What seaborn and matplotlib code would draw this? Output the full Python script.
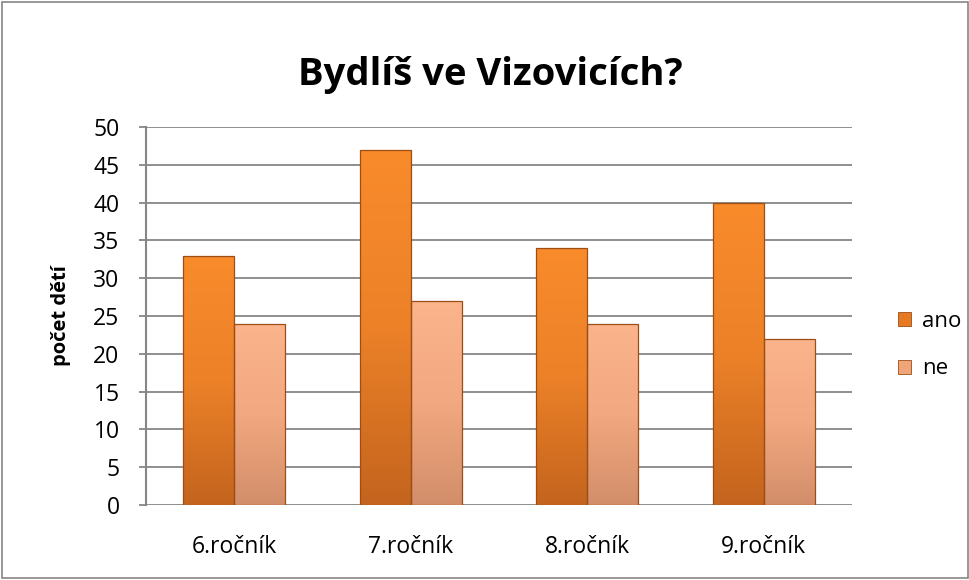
import matplotlib
matplotlib.use("Agg")
import matplotlib.pyplot as plt
import numpy as np
import pandas as pd
import seaborn as sns
from matplotlib.colors import LinearSegmentedColormap
from matplotlib.patches import Rectangle

# data
categories = ["6.ročník", "7.ročník", "8.ročník", "9.ročník"]
ano = [33, 47, 34, 40]
ne = [24, 27, 24, 22]
series = ["ano", "ne"]

df = pd.DataFrame({
    "rocnik": categories * 2,
    "odpoved": ["ano"] * 4 + ["ne"] * 4,
    "pocet": ano + ne,
})

sns.set_style("white", {"text.color": "black", "axes.labelcolor": "black",
                        "xtick.color": "black", "ytick.color": "black"})
plt.rcParams["font.family"] = ["Open Sans", "DejaVu Sans"]

fig = plt.figure(figsize=(9.7, 5.8), dpi=100)
ax = fig.add_axes([0.1505, 0.1293, 0.7278, 0.6517])

palette = {"ano": "#E67A22", "ne": "#EFA47A"}
gradients = {
    "ano": LinearSegmentedColormap.from_list("ano", ["#C4641E", "#EC8128", "#F98B2B"]),
    "ne": LinearSegmentedColormap.from_list("ne", ["#D28E6A", "#F2A880", "#FBB48C"]),
}
sns.barplot(data=df, x="rocnik", y="pocet", hue="odpoved", palette=palette,
            width=0.58, saturation=1, edgecolor="#9C4E14", linewidth=0.9,
            ax=ax, zorder=3, legend=False)

# vertical gradient inside the bars, edges kept on top
grad = np.linspace(0, 1, 256).reshape(-1, 1)
for i, bar in enumerate(ax.patches[:8]):
    s = series[i // 4]
    x0, y0 = bar.get_x(), bar.get_y()
    w, h = bar.get_width(), bar.get_height()
    im = ax.imshow(grad, cmap=gradients[s], origin="lower", aspect="auto",
                   extent=(x0, x0 + w, y0, y0 + h), zorder=3.5)
    im.set_clip_path(bar)
    bar.set_facecolor("none")
    bar.set_zorder(4)
ax.set_xlim(-0.5, 3.5)

ax.set_ylim(0, 50)
ax.set_yticks(range(0, 51, 5))
ax.yaxis.grid(True, color="#868686", linewidth=1.3, zorder=0)
ax.set_axisbelow(True)
for s in ["top", "right", "bottom"]:
    ax.spines[s].set_visible(False)
ax.spines["left"].set_color("#868686")
ax.spines["left"].set_linewidth(1.5)
ax.tick_params(axis="y", left=True, length=5, color="#868686", width=1.3,
               labelsize=16.5, pad=14, labelcolor="black")
ax.tick_params(axis="x", bottom=False, labelsize=16.5, pad=18,
               labelcolor="black")
ax.set_xlabel("")
ax.set_ylabel("počet dětí", fontsize=14.5, fontweight="bold", labelpad=16,
              color="black")

fig.text(0.505, 0.87, "Bydlíš ve Vizovicích?", ha="center", va="center",
         fontsize=27.5, fontweight="bold", color="black")

# legend
handles = [Rectangle((0, 0), 1, 1, facecolor=palette[s], edgecolor="#9C4E14",
                     linewidth=0.6) for s in series]
fig.legend(handles, series, loc="center left", bbox_to_anchor=(0.905, 0.405),
           frameon=False, fontsize=16, handlelength=0.6, handleheight=0.6,
           handletextpad=0.5, labelspacing=1.2, labelcolor="black")

# outer border
fig.patches.append(Rectangle((0.002, 0.003), 0.996, 0.994,
                             transform=fig.transFigure, fill=False,
                             edgecolor="#868686", linewidth=1.2))

fig.savefig("out.png", dpi=100)
